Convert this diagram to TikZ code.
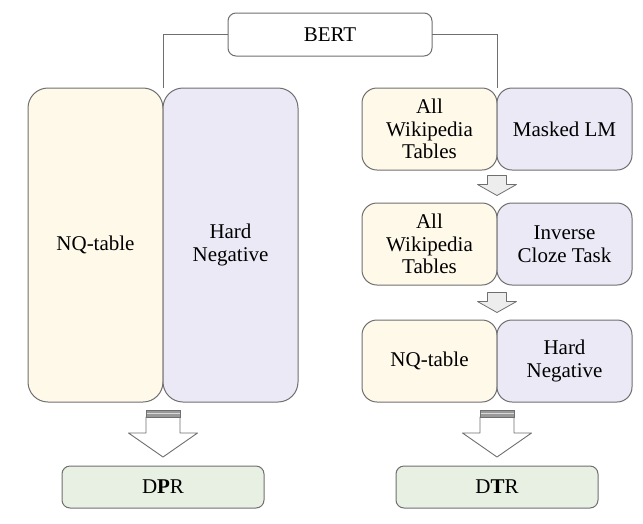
\documentclass[tikz,border=0pt]{standalone}
\usepackage{fontspec}
\setmainfont{Liberation Serif}
\usetikzlibrary{positioning,calc}

\definecolor{edgegray}{HTML}{6F6F6F}
\definecolor{paleyellow}{HTML}{FFF9EA}
\definecolor{palepurple}{HTML}{ECE9F6}
\definecolor{palegreen}{HTML}{E7F0E2}
\definecolor{arrowgray}{HTML}{EDEDED}

\tikzset{
	pics/smalldown/.style={code={
		\draw[edgegray, fill=arrowgray, line width=.8pt, line join=round] (-9.5,0) -- (9.5,0) -- (9.5,9) -- (19.5,9) -- (0,20) -- (-19.5,9) -- (-9.5,9) -- cycle;
	}},
	pics/bigdown/.style={code={
		\draw[edgegray, fill=white, line width=.9pt, line join=round] (-17,7) -- (17,7) -- (17,23) -- (34.5,23) -- (0,47) -- (-34.5,23) -- (-17,23) -- cycle;
		\draw[edgegray, fill=gray!80, line width=.9pt] (-17,0) rectangle (17,7);
		\draw[white!70!gray, line width=1.2pt] (-16.5,3.5) -- (16.5,3.5);
	}}
}

\begin{document}
\begin{tikzpicture}
	[x=1pt, y=-1pt,
	every node/.style={draw=edgegray, line width=1pt, align=center, inner sep=0pt, outer sep=0pt, font=\fontsize{21}{22.5}\selectfont},
	tall/.style={minimum width=135pt, minimum height=314pt, rounded corners=20pt},
	cell/.style={minimum width=135pt, minimum height=82pt, rounded corners=15pt},
	title/.style={minimum width=204pt, minimum height=43pt, rounded corners=8pt},
	result/.style={minimum width=202pt, minimum height=42pt, rounded corners=8pt, fill=palegreen},
	yel/.style={fill=paleyellow}, pur/.style={fill=palepurple},
	link/.style={draw=edgegray, line width=.9pt}]
	\useasboundingbox (0,0) rectangle (643,523);
	\node[title, fill=white] (bert) at (330,34.5) {BERT};
	% DPR side
	\node[tall, yel] (nq) at (95.5,245) {NQ-table};
	\node[tall, pur, right=0pt of nq] (hard) {Hard\\Negative};
	\node[result] (dpr) at (163,487) {D\textbf{P}R};
	% DTR side
	\node[cell, yel] (wiki1) at (429.5,129) {All\\Wikipedia\\Tables};
	\node[cell, pur, right=0pt of wiki1] (mlm) {Masked LM};
	\node[cell, yel] (wiki2) at (429.5,244) {All\\Wikipedia\\Tables};
	\node[cell, pur, right=0pt of wiki2] (ict) {Inverse\\Cloze Task};
	\node[cell, yel] (nq3) at (429.5,361) {NQ-table};
	\node[cell, pur, right=0pt of nq3] (hard3) {Hard\\Negative};
	\node[result] (dtr) at (497,487) {D\textbf{T}R};
	\draw[link] (bert.west) -| (nq.north east);
	\draw[link] (bert.east) -| (wiki1.north east);
	\pic at ($(wiki1.south east)+(0,5.5)$) {smalldown};
	\pic at ($(wiki2.south east)+(0,7.5)$) {smalldown};
	\pic at ($(hard.south west)+(0,8)$) {bigdown};
	\pic at ($(nq3.south east)+(0,8)$) {bigdown};
\end{tikzpicture}
\end{document}
